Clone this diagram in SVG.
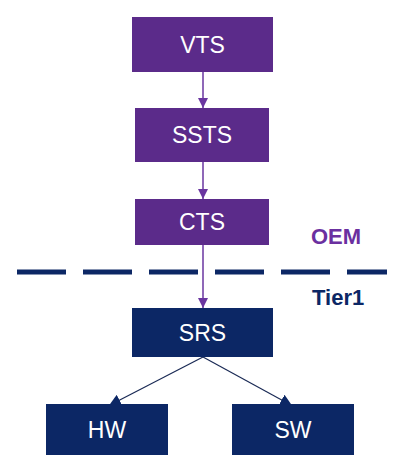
<svg xmlns="http://www.w3.org/2000/svg" width="412" height="469" viewBox="0 0 412 469">
<defs>
<style>
.p{fill:#5b2b8a}
.n{fill:#0c2765}
.t{fill:#ffffff;font-family:"Liberation Sans",Arial,sans-serif;font-size:23px;text-anchor:middle}
.pl{stroke:#6a36a0;stroke-width:1.5;fill:none}
.nl{stroke:#1a2a55;stroke-width:1.2;fill:none}
.lbl{font-family:"Liberation Sans",Arial,sans-serif;font-size:22px;font-weight:bold}
</style>
<marker id="ap" viewBox="0 0 10 10" refX="10" refY="5" markerWidth="10" markerHeight="10" markerUnits="userSpaceOnUse" orient="auto"><path d="M0,0 L10,5 L0,10 z" fill="#6a36a0"/></marker>
<marker id="an" viewBox="0 0 10 10" refX="7" refY="5" markerWidth="12" markerHeight="12" markerUnits="userSpaceOnUse" orient="auto"><path d="M0,0 L10,5 L0,10 z" fill="#0c2765"/></marker>
</defs>
<rect width="412" height="469" fill="#ffffff"/>
<g id="connectors">
<line class="pl" x1="203" y1="72" x2="203" y2="108" marker-end="url(#ap)"/>
<line class="pl" x1="203" y1="162" x2="203" y2="199" marker-end="url(#ap)"/>
<line class="pl" x1="203" y1="245" x2="203" y2="308" marker-end="url(#ap)"/>
<line class="nl" x1="203" y1="357" x2="112" y2="404" marker-end="url(#an)"/>
<line class="nl" x1="203" y1="357" x2="289" y2="404" marker-end="url(#an)"/>
</g>
<g id="divider">
<line x1="17" y1="272" x2="387" y2="272" stroke="#0c2765" stroke-width="5" stroke-dasharray="49 17"/>
</g>
<g id="VTS"><rect class="p" x="132" y="17" width="141" height="55"/><text class="t" x="202.5" y="53">VTS</text></g>
<g id="SSTS"><rect class="p" x="135" y="108" width="134" height="54"/><text class="t" x="202" y="143">SSTS</text></g>
<g id="CTS"><rect class="p" x="135" y="199" width="134" height="46"/><text class="t" x="202" y="230">CTS</text></g>
<g id="OEM"><text class="lbl" x="311" y="244" fill="#6b30a0">OEM</text></g>
<g id="Tier1"><text class="lbl" x="312" y="305" fill="#0c2765">Tier1</text></g>
<g id="SRS"><rect class="n" x="132" y="308" width="141" height="49"/><text class="t" x="202.5" y="341">SRS</text></g>
<g id="HW"><rect class="n" x="46" y="404" width="122" height="51"/><text class="t" x="107" y="438">HW</text></g>
<g id="SW"><rect class="n" x="232" y="404" width="122" height="51"/><text class="t" x="293" y="438">SW</text></g>
</svg>
